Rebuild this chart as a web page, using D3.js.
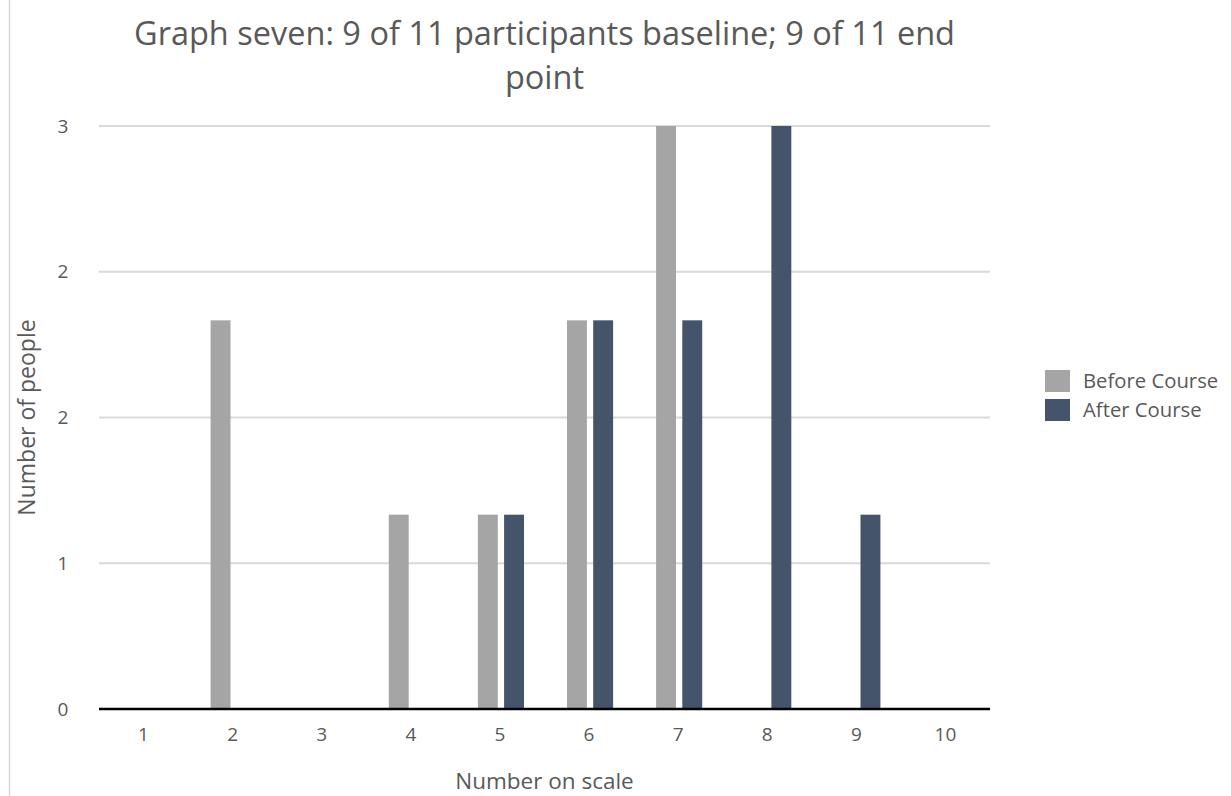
<!DOCTYPE html>
<html>
<head>
<meta charset="utf-8">
<script src="https://cdn.jsdelivr.net/npm/d3@7"></script>
<style>
  html, body { margin: 0; padding: 0; background: #fff; }
  svg { display: block; }
  text { font-family: "Open Sans", sans-serif; fill: #595959; }
</style>
</head>
<body>
<script>
const categories = ["1","2","3","4","5","6","7","8","9","10"];
const beforeValues = [0, 2, 0, 1, 1, 2, 3, 0, 0, 0];
const afterValues  = [0, 0, 0, 0, 1, 2, 2, 3, 1, 0];
const seriesNames = ["Before Course", "After Course"];
const seriesColors = ["#a5a5a5", "#44546a"];
const yTicks = [0, 0.75, 1.5, 2.25, 3];
const titleLines = ["Graph seven: 9 of 11 participants baseline; 9 of 11 end", "point"];

const W = 1231, H = 796;
const margin = { left: 99, right: 241, top: 126, bottom: 87 };
const svg = d3.select("body").append("svg").attr("width", W).attr("height", H);

// left border line
svg.append("line").attr("x1", 9.5).attr("x2", 9.5).attr("y1", 0).attr("y2", H)
  .attr("stroke", "#d9d9d9").attr("stroke-width", 1.5);

const x = d3.scaleBand().domain(categories).range([margin.left, W - margin.right]).paddingInner(0).paddingOuter(0);
const y = d3.scaleLinear().domain([0, 3]).range([H - margin.bottom, margin.top]);

// gridlines
svg.append("g").selectAll("line").data(yTicks.filter(d => d > 0)).join("line")
  .attr("x1", margin.left).attr("x2", W - margin.right)
  .attr("y1", d => y(d)).attr("y2", d => y(d))
  .attr("stroke", "#d9d9d9").attr("stroke-width", 2);

// y labels
const yAxis = d3.axisLeft(y).tickValues(yTicks).tickFormat(d => String(Math.round(d))).tickSize(0).tickPadding(0);
const yg = svg.append("g").attr("transform", `translate(${margin.left - 30},0)`).call(yAxis);
yg.select(".domain").remove();
yg.selectAll("text").attr("font-size", 19).attr("fill", "#595959")
  .attr("font-family", '"Open Sans", sans-serif')
  .attr("text-anchor", "middle").attr("dx", -6);

// bars
const inner = d3.scaleBand().domain(seriesNames).range([0, x.bandwidth()]).paddingInner(0.24).paddingOuter(0.82);
const series = [beforeValues, afterValues];
series.forEach((vals, si) => {
  svg.append("g").selectAll("rect").data(vals.map((v, i) => ({ c: categories[i], v }))).join("rect")
    .attr("x", d => x(d.c) + inner(seriesNames[si]) + 1)
    .attr("width", inner.bandwidth())
    .attr("y", d => y(d.v))
    .attr("height", d => y(0) - y(d.v))
    .attr("fill", seriesColors[si]);
});

// baseline
svg.append("line").attr("x1", margin.left).attr("x2", W - margin.right)
  .attr("y1", y(0)).attr("y2", y(0)).attr("stroke", "#000").attr("stroke-width", 2.5);

// x labels
const xAxis = d3.axisBottom(x).tickSize(0).tickPadding(0);
const xg = svg.append("g").attr("transform", `translate(0,${y(0) + 32})`).call(xAxis);
xg.select(".domain").remove();
xg.selectAll("text").attr("font-size", 19).attr("fill", "#595959")
  .attr("font-family", '"Open Sans", sans-serif')
  .attr("dy", 0);

// title
const cx = (margin.left + W - margin.right) / 2;
svg.append("g").selectAll("text").data(titleLines).join("text")
  .attr("x", cx).attr("y", (d, i) => 45 + i * 44)
  .attr("text-anchor", "middle").attr("font-size", 32.5).text(d => d);

// axis titles
svg.append("text").attr("x", cx).attr("y", 789).attr("text-anchor", "middle")
  .attr("font-size", 22.5).text("Number on scale");
svg.append("text").attr("transform", `translate(35,${(margin.top + H - margin.bottom) / 2}) rotate(-90)`)
  .attr("text-anchor", "middle").attr("font-size", 23).text("Number of people");

// legend
const lg = svg.append("g").attr("transform", "translate(1045,370)");
seriesNames.forEach((n, i) => {
  lg.append("rect").attr("x", 0).attr("y", i * 29).attr("width", 25).attr("height", 22).attr("fill", seriesColors[i]);
  lg.append("text").attr("x", 38).attr("y", i * 29 + 18).attr("font-size", 20.3).text(n);
});
</script>
</body>
</html>
